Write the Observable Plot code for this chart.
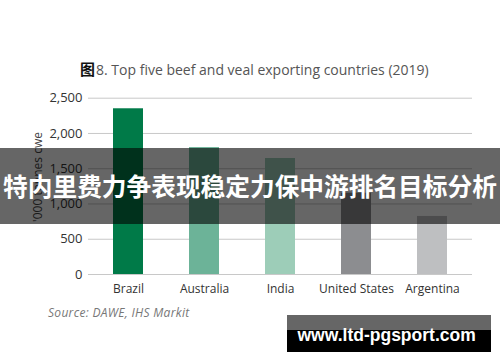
<!DOCTYPE html>
<html>
<head>
<meta charset="utf-8">
<script src="https://cdn.jsdelivr.net/npm/d3@7"></script>
<script src="https://cdn.jsdelivr.net/npm/@observablehq/plot@0.6"></script>
<style>
  html, body { margin: 0; padding: 0; background: #fff; }
  #wrap { position: relative; width: 500px; height: 362px; overflow: hidden; font-family: "Open Sans", sans-serif; }
  #chart { position: absolute; left: 0; top: 0; }
  .abs { position: absolute; white-space: nowrap; line-height: 1; }
  #title { left: 80px; top: 60.5px; font-size: 14px; color: #555; }
  #title b { font-family: "Noto Sans CJK SC", sans-serif; color: #111; font-size: 15px; font-weight: 700; margin-right: 1px; }
  #ylab { left: 38px; top: 177px; font-size: 12px; color: #444; transform: translate(-50%, -50%) rotate(-90deg); }
  #source { left: 48px; top: 307px; font-size: 12px; letter-spacing: 0.3px; color: #777; font-style: italic; }
  #banner { left: 0; top: 147.5px; width: 500px; height: 76.5px; background: rgba(0,0,0,0.6); display: flex; align-items: center; justify-content: center; }
  #banner span { font-family: "Noto Sans CJK SC", sans-serif; font-weight: 700; font-size: 24.7px; color: #fff; line-height: 1; }
  #wm { left: 287px; top: 315px; width: 204px; height: 37px; background: linear-gradient(#666 0, #666 15px, #000 15px, #000 100%); }
  #wm span { position: absolute; left: 10.5px; top: 12px; font-family: "Liberation Sans", Arial, sans-serif; font-weight: 700; font-size: 17.5px; color: #fff; line-height: 1; }
</style>
</head>
<body>
<div id="wrap">
  <div id="chart"></div>
  <div class="abs" id="title"><b>图</b>8. Top five beef and veal exporting countries (2019)</div>
  <div class="abs" id="ylab">'000 tonnes cwe</div>
  <div class="abs" id="source">Source: DAWE, IHS Markit</div>
  <div class="abs" id="banner"><span>特内里费力争表现稳定力保中游排名目标分析</span></div>
  <div class="abs" id="wm"><span>www.ltd-pgsport.com</span></div>
</div>
<script>
const countries = ["Brazil", "Australia", "India", "United States", "Argentina"];
const exportsKt = [2350, 1800, 1645, 1153, 823];
const yTicks = [0, 500, 1000, 1500, 2000, 2500];
const palette = ["#007a48", "#6cb398", "#9dcdb8", "#8c8d90", "#bebfc1"];

const data = countries.map((c, i) => ({country: c, value: exportsKt[i]}));

const chart = Plot.plot({
  width: 500,
  height: 362,
  marginTop: 97.7,
  marginBottom: 88,
  marginLeft: 88,
  marginRight: 28,
  style: {fontFamily: "Open Sans, sans-serif", background: "transparent"},
  x: {domain: countries, paddingInner: 0.6, paddingOuter: 0.3},
  y: {domain: [0, 2500]},
  color: {domain: countries, range: palette},
  marks: [
    Plot.ruleY(yTicks, {stroke: "#c8c8c8", strokeWidth: 1}),
    Plot.barY(data, {x: "country", y: "value", fill: "country"}),
    Plot.axisX({tickSize: 0, tickPadding: 10, fontSize: 12, label: null, color: "#333"}),
    Plot.axisY({ticks: yTicks, tickFormat: d3.format(","), tickSize: 0, tickPadding: 6, fontSize: 13, label: null, color: "#333"})
  ]
});
document.getElementById("chart").appendChild(chart);
</script>
</body>
</html>
